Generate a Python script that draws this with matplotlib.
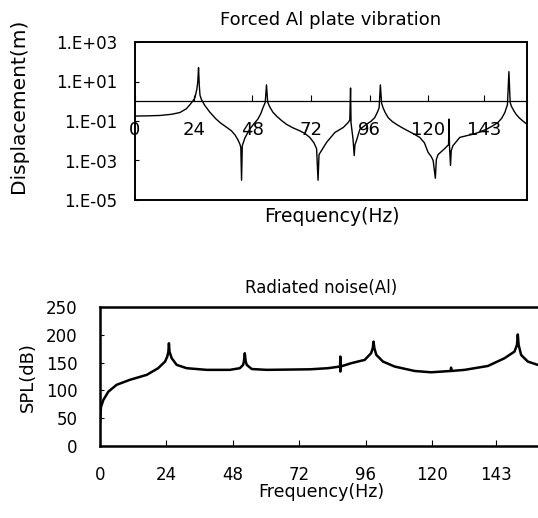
import numpy as np
import matplotlib.pyplot as plt
from matplotlib.ticker import NullLocator

# ---- top panel: forced Al plate vibration (displacement read as log10 exponent)
vib_freq = [0, 5, 10.2, 15, 18.4, 21, 22.5, 23.6, 24.5, 25.3, 25.7, 26.0, 26.3, 26.6, 27.2,
            28.5, 30.6, 33.0, 35.0, 37.5, 39.5, 41.0, 42.2, 43.0, 43.3, 43.6, 43.9,
            45.0, 47.0, 48.8, 50.3, 51.5, 52.3, 53.3, 53.8, 54.3, 55.2, 56.4, 57.9,
            60.0, 62.0, 64.7, 67.5, 69.6, 71.5, 73.2, 74.3, 74.9, 75.3, 76.3, 78.4,
            81.8, 85.2, 87.2, 87.9, 88.2, 88.4, 89.2, 89.7, 90.0, 90.6, 92.0, 94.7,
            96.5, 98.1, 99.2, 99.9, 100.4, 100.9, 101.5, 102.4, 103.6, 105.2, 107.0,
            109.3, 111.7, 114.0, 116.5, 118.4, 119.9, 121.2, 122.0, 122.9, 123.3,
            124.0, 126.7, 128.3, 128.5, 128.7, 129.1, 129.4, 130.1, 132.9, 135.5,
            138.3, 141.0, 143.8, 146.3, 148.5, 150.1, 151.3, 152.4, 153.0, 153.5,
            154.0, 155.0, 156.0, 157.3, 158.7, 160.4]
vib_log_disp = [-0.75, -0.74, -0.72, -0.66, -0.57, -0.38, -0.17, 0.0, 0.17, 0.6, 1.0, 1.7,
                0.8, 0.3, 0.08, -0.2, -0.55, -0.88, -1.1, -1.32, -1.5, -1.72, -1.97, -2.2,
                -2.35, -4.0, -2.25, -1.85, -1.4, -1.12, -0.9, -0.62, -0.35, -0.05, 0.83,
                -0.05, -0.3, -0.55, -0.75, -0.98, -1.17, -1.35, -1.5, -1.64, -1.83, -2.1,
                -2.4, -4.0, -2.7, -2.5, -2.08, -1.58, -1.33, -1.08, -0.95, 0.67, -1.1,
                -1.9, -2.75, -2.2, -2.0, -1.42, -1.17, -1.02, -0.83, -0.55, -0.33, 0.83,
                -0.1, -0.33, -0.58, -0.83, -1.02, -1.17, -1.34, -1.5, -1.65, -1.83,
                -2.1, -2.58, -2.8, -3.0, -3.9, -2.95, -2.7, -2.4, -2.2, -0.9, -2.3, -3.25,
                -2.5, -2.25, -1.83, -1.75, -1.67, -1.56, -1.42, -1.25, -1.08, -0.85,
                -0.58, -0.17, 1.5, -0.05, -0.25, -0.48, -0.67, -0.85, -1.0, -1.17]
vib_yticks = [1e-5, 1e-3, 1e-1, 1e1, 1e3]
vib_ylabels = ['1.E-05', '1.E-03', '1.E-01', '1.E+01', '1.E+03']

freq_ticks = [0, 24, 48, 72, 96, 120, 143]
freq_labels = ['0', '24', '48', '72', '96', '120', '143']

# ---- bottom panel: radiated noise
spl_freq = [0, 0.36, 1.2, 3.0, 6.0, 10.8, 16.9, 21.0, 23.5, 24.3, 24.7, 24.9, 25.1, 25.9,
            27.7, 31.3, 38.5, 46.9, 50.5, 51.7, 52.0, 52.3, 52.6, 53.0, 54.8, 60.2,
            68.0, 75.8, 82.3, 86.7, 86.8, 86.8, 86.9, 90.7, 95.6, 97.9, 98.5, 98.8,
            99.1, 99.8, 102.2, 106.4, 113.6, 119.6, 126.7, 126.8, 126.9, 131.7, 140.1,
            146.1, 149.7, 150.6, 150.9, 151.2, 152.1, 154.5, 158.1, 160.0]
spl_db = [43, 70, 82.5, 97.5, 110, 119, 128, 140, 152, 161, 170, 185, 170, 158,
          146, 140, 137, 137, 140, 146, 153, 167, 153, 146, 138.5, 137,
          137.5, 138, 140, 143, 161, 134, 143, 149, 155, 167, 176, 188,
          176, 164, 152, 143, 135, 132.6, 135, 141, 135, 137, 144,
          158, 170, 182, 201, 182, 164, 152, 146, 145]
spl_yticks = [0, 50, 100, 150, 200, 250]

fig = plt.figure(figsize=(5.38, 5.18), dpi=100)

# top chart
ax1 = fig.add_axes([135/538, 1-200/518, 392/538, 158/518])
ax1.plot(vib_freq, np.power(10.0, vib_log_disp), color='k', lw=1.0)
ax1.set_yscale('log')
ax1.set_xlim(0, 160.4)
ax1.set_ylim(1e-5, 1e3)
ax1.set_yticks(vib_yticks)
ax1.set_yticklabels(vib_ylabels)
ax1.yaxis.set_minor_locator(NullLocator())
ax1.set_xticks(freq_ticks)
ax1.set_xticklabels(freq_labels)
# excel style: category axis crosses at 1
ax1.spines['bottom'].set_position(('data', 1.0))
ax1.spines['bottom'].set_linewidth(0.9)
for s in ['top', 'left', 'right']:
    ax1.spines[s].set_linewidth(1.4)
ax1.plot([0, 1], [0, 0], transform=ax1.transAxes, color='k', lw=1.4, clip_on=False)
ax1.tick_params(axis='x', direction='in', length=4, width=0.8, pad=14, labelsize=13)
ax1.tick_params(axis='y', direction='in', length=3, width=0.8, pad=13, labelsize=12)
ax1.set_title('Forced Al plate vibration', fontsize=13, pad=12)
fig.text(19/538, 1-106/518, 'Displacement(m)', rotation=90, ha='center', va='center', fontsize=14.5)
fig.text(331.5/538, 1-217/518, 'Frequency(Hz)', ha='center', va='center', fontsize=13.5)

# bottom chart
ax2 = fig.add_axes([100/538, 1-445.7/518, 443/538, 138.4/518])
ax2.plot(spl_freq, spl_db, color='k', lw=1.8)
ax2.set_xlim(0, 160)
ax2.set_ylim(0, 250)
ax2.set_yticks(spl_yticks)
ax2.set_xticks(freq_ticks)
ax2.set_xticklabels(freq_labels)
for s in ax2.spines.values():
    s.set_linewidth(1.8)
ax2.tick_params(axis='x', direction='in', length=4, width=0.8, pad=14.5, labelsize=12)
ax2.tick_params(axis='y', direction='in', length=3, width=0.8, pad=16, labelsize=12)
ax2.set_title('Radiated noise(Al)', fontsize=12, pad=10)
fig.text(28/538, 1-377/518, 'SPL(dB)', rotation=90, ha='center', va='center', fontsize=13)
fig.text(321/538, 1-492/518, 'Frequency(Hz)', ha='center', va='center', fontsize=12.5)

fig.savefig('out.png', dpi=100)
